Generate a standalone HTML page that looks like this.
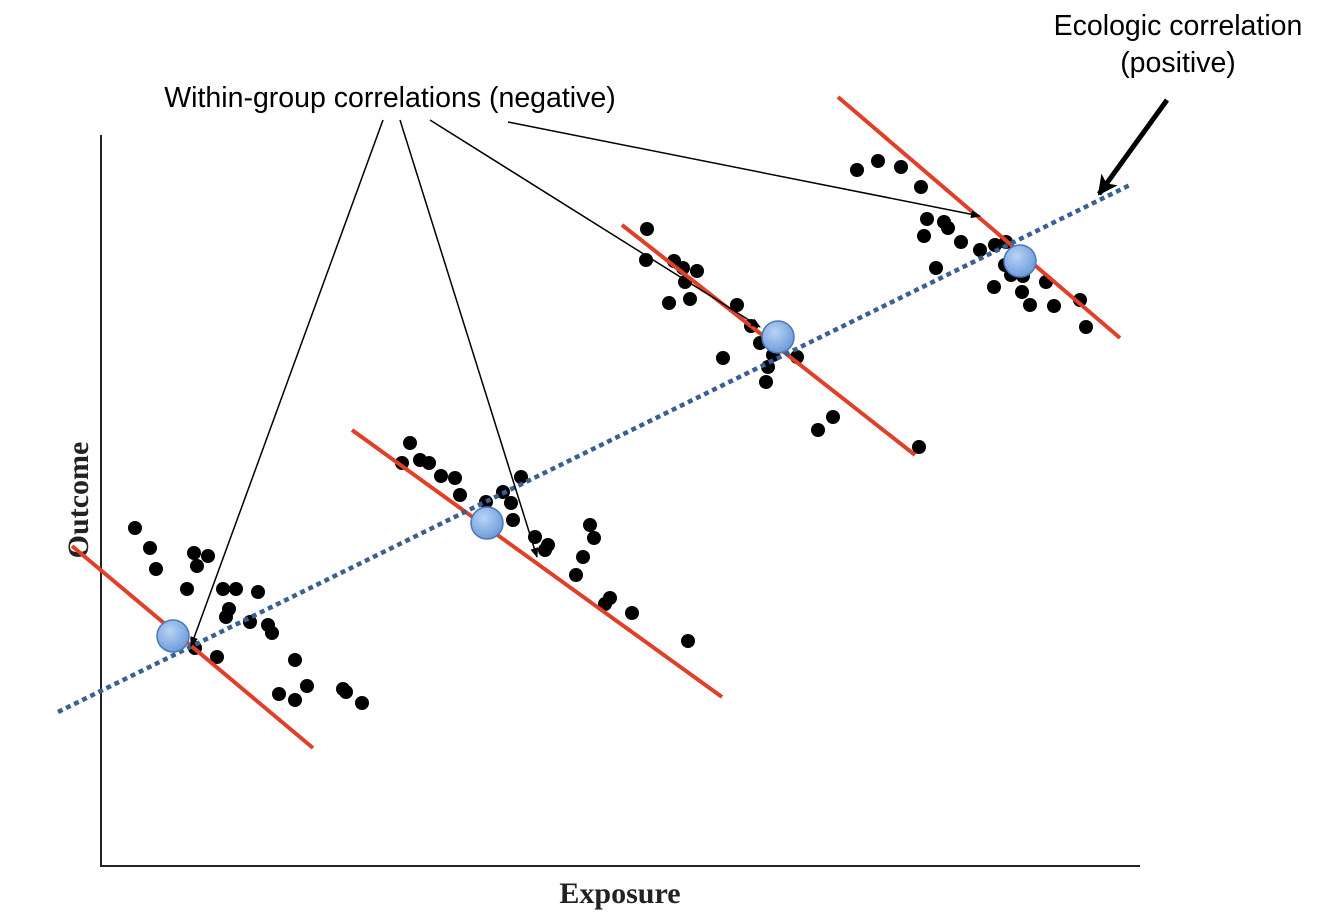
<!DOCTYPE html>
<html><head><meta charset="utf-8"><style>
html,body{margin:0;padding:0;background:#fff;}
svg{display:block;}
</style></head><body>
<svg id="chart" width="1336" height="924" viewBox="0 0 1336 924" xmlns="http://www.w3.org/2000/svg">
<defs>
<radialGradient id="bg" cx="40%" cy="35%" r="65%"><stop offset="0" stop-color="#b9d3f5"/><stop offset="1" stop-color="#6e9ddb"/></radialGradient>
<marker id="ah" markerWidth="10" markerHeight="8" refX="9" refY="4" orient="auto" markerUnits="userSpaceOnUse"><path d="M0,0 L10,4 L0,8 Z" fill="#000"/></marker>
<marker id="ahb" markerWidth="22" markerHeight="20" refX="18" refY="10" orient="auto" markerUnits="userSpaceOnUse"><path d="M0,0 L20,10 L0,20 L5,10 Z" fill="#000"/></marker>
</defs>
<line x1="101" y1="135" x2="101" y2="867" stroke="#222" stroke-width="2"/>
<line x1="100" y1="866" x2="1140" y2="866" stroke="#222" stroke-width="2"/>
<text transform="translate(88,500) rotate(-90)" text-anchor="middle" font-family="Liberation Serif, serif" font-weight="bold" font-size="30" fill="#222">Outcome</text>
<text x="620" y="903" text-anchor="middle" font-family="Liberation Serif, serif" font-weight="bold" font-size="30" fill="#222">Exposure</text>
<g id="marks"></g>
<text x="390" y="107" text-anchor="middle" font-family="Liberation Sans, sans-serif" font-size="28.5" fill="#000">Within-group correlations (negative)</text>
<text x="1178" y="35" text-anchor="middle" font-family="Liberation Sans, sans-serif" font-size="28.5" fill="#000">Ecologic correlation</text>
<text x="1178" y="72" text-anchor="middle" font-family="Liberation Sans, sans-serif" font-size="28.5" fill="#000">(positive)</text>
<line x1="383" y1="120" x2="191" y2="646" stroke="#000" stroke-width="1.5" marker-end="url(#ah)"/>
<line x1="400" y1="120" x2="537" y2="557" stroke="#000" stroke-width="1.5" marker-end="url(#ah)"/>
<line x1="430" y1="120" x2="760" y2="327" stroke="#000" stroke-width="1.5" marker-end="url(#ah)"/>
<line x1="508" y1="122" x2="980" y2="216" stroke="#000" stroke-width="1.5" marker-end="url(#ah)"/>
<line x1="1167" y1="100" x2="1099" y2="194" stroke="#000" stroke-width="5" marker-end="url(#ahb)"/>
</svg>
<script>
const g1x=[3.5,5.0,5.6,9.4,10.8,9.7,8.7,12.3,13.6,15.8,12.9,12.6,15.0,16.8,17.2,9.5,11.7,19.5,17.9,19.5,20.7,24.3,24.6,26.2];
const g1y=[33.8,31.8,29.7,31.3,31.0,30.0,27.7,27.7,27.7,27.4,25.7,24.9,24.4,24.1,23.3,21.8,20.9,20.6,17.2,16.6,18.0,17.7,17.4,16.3];
const g2x=[31.0,30.2,32.0,32.9,34.1,35.5,36.0,38.6,40.3,42.1,41.1,41.3,43.5,44.8,44.5,49.0,49.4,48.3,47.6,51.0,50.5,53.2,58.8];
const g2y=[42.3,40.3,40.6,40.3,39.0,38.8,37.1,36.4,37.4,38.9,36.3,34.6,32.9,32.1,31.6,34.1,32.8,30.9,29.1,26.8,26.2,25.3,22.5];
const g3x=[54.7,54.6,57.4,58.3,59.7,58.5,56.9,59.0,63.7,65.1,66.0,62.3,67.3,66.8,69.7,66.6,71.8,73.3,81.9];
const g3y=[63.7,60.6,60.5,59.8,59.5,58.4,56.3,56.7,56.1,54.0,52.3,50.8,51.1,49.9,50.9,48.4,43.6,44.9,41.9];
const g4x=[75.7,77.8,80.1,82.1,82.7,84.4,82.4,86.1,84.8,88.0,89.5,90.6,83.6,89.4,91.1,92.3,92.2,93.0,95.4,94.6,98.0,98.6,90.5];
const g4y=[69.6,70.5,69.9,67.9,64.7,64.4,63.0,62.4,63.8,61.6,62.1,62.4,59.8,57.9,59.1,59.0,57.4,56.1,56.0,58.4,56.6,53.9,60.1];
const fitX1=[-2.8,25.2,52.2,73.8];
const fitY1=[32.0,43.6,64.1,76.9];
const fitX2=[21.3,62.2,81.5,102];
const fitY2=[11.8,16.9,41.1,52.8];
const meanX=[7.3,38.7,67.8,92.0];
const meanY=[23.0,34.3,52.9,60.5];
const ecoX=[-4.2,103.2];
const ecoY=[15.4,68.2];

const sx=v=>100+v*10;
const sy=v=>866-v*10;
const NS="http://www.w3.org/2000/svg";
const root=document.getElementById('marks');
function mk(t,a){const e=document.createElementNS(NS,t);for(const k in a)e.setAttribute(k,a[k]);root.appendChild(e);return e;}
[[g1x,g1y],[g2x,g2y],[g3x,g3y],[g4x,g4y]].forEach((g,gi)=>{
  g[0].forEach((x,i)=>{
    const c=mk('circle',{cx:sx(x),cy:sy(g[1][i]),r:7,fill:'#000'});
    
    
  });
});
fitX1.forEach((x,i)=>{
  const l=mk('line',{x1:sx(x),y1:sy(fitY1[i]),x2:sx(fitX2[i]),y2:sy(fitY2[i]),stroke:'#e0402a','stroke-width':4});
  
  
});
const eco=mk('line',{x1:sx(ecoX[0]),y1:sy(ecoY[0]),x2:sx(ecoX[1]),y2:sy(ecoY[1]),stroke:'#3a5f91','stroke-width':4.5,'stroke-dasharray':'5 4'});


meanX.forEach((x,i)=>{
  const c=mk('circle',{cx:sx(x),cy:sy(meanY[i]),r:16,fill:'url(#bg)',stroke:'#4a78b8','stroke-width':1.5});
  
  
});
</script>
</body></html>
